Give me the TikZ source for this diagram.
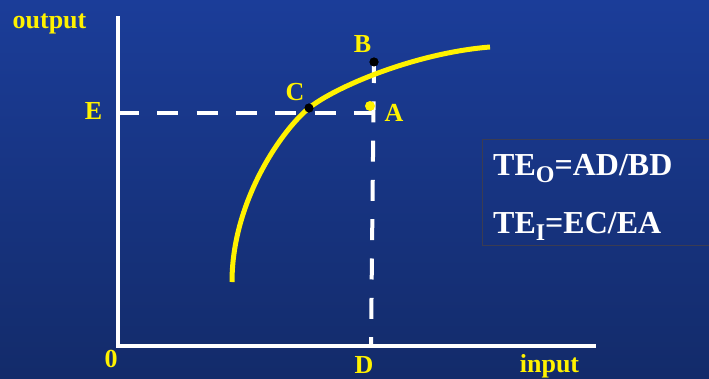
\documentclass[tikz,border=0pt]{standalone}
\usepackage{fontspec}
\setmainfont{Liberation Serif}
\usetikzlibrary{positioning}

\definecolor{bgtop}{RGB}{27,61,153}
\definecolor{bgbot}{RGB}{19,43,106}
\definecolor{boxline}{RGB}{58,60,82}
\newcommand{\lowsub}[1]{\raisebox{-7pt}{\fontsize{24}{24}\selectfont #1}}

\begin{document}
\begin{tikzpicture}[
  x=1pt, y=-1pt,
  axis/.style={draw=white, line width=4pt},
  guide/.style={draw=white, line width=4pt, dash pattern=on 21pt off 18.3pt},
  frontier/.style={draw=yellow, line width=5pt},
  lbl/.style={text=yellow, font=\fontsize{26}{30}\selectfont\bfseries, inner sep=0pt, anchor=base},
  ratio/.style={text=white, font=\fontsize{32}{36}\selectfont\bfseries, inner sep=0pt, anchor=base west},
  dot/.style={circle, fill=black, inner sep=0pt, minimum size=9pt}
]
  \shade[top color=bgtop, bottom color=bgtop!50!bgbot] (0,0) rectangle (709,189);
  \shade[top color=bgtop!50!bgbot, bottom color=bgbot] (0,189) rectangle (709,378);
  \useasboundingbox (0,0) rectangle (709,378);

  % axes
  \coordinate (origin) at (118,345.5);
  \coordinate (ytop) at (118,16);
  \coordinate (xend) at (596,345.5);
  \draw[axis] (ytop) -- (origin) -- (xend);

  % points
  \coordinate (E) at (118,112.5);
  \coordinate (A) at (373,112.5);
  \coordinate (D) at (371,345.5);
  \coordinate (start) at (232,282);
  \coordinate (stop) at (490,47);
  \node[dot] (Bdot) at (374,62) {};
  \node[dot] (Cdot) at (309,108) {};

  \draw[guide] (E) -- (A);
  \draw[guide] (Bdot.center) -- (D);

  % frontier
  \draw[frontier] (start) .. controls (232,200) and (283,129) .. (Cdot.center)
    .. controls (335,87) and (415,53) .. (stop);
  \node[dot] at (Bdot) {};
  \node[dot] at (Cdot) {};
  \node[circle, fill=yellow, inner sep=0pt, minimum size=10pt] (Adot) at (370,106) {};

  % labels
  \node[lbl] (output) at (49.5,28) {output};
  \node[lbl] (Elbl) at (93.5,119) {E};
  \node[lbl] (Clbl) at (295,100) {C};
  \node[lbl] (Blbl) at (362.5,52.5) {B};
  \node[lbl] (Albl) at (394,121.5) {A};
  \node[lbl] (zero) at (111,367) {0};
  \node[lbl] (Dlbl) at (364,373) {D};
  \node[lbl] (input) at (549.5,372) {input};

  % ratio box
  \draw[boxline, line width=1pt] (482,139) rectangle (712,245);
  \node[ratio] (teo) at (493,175) {TE\lowsub{O}=AD/BD};
  \node[ratio] (tei) at (493,233) {TE\lowsub{I}=EC/EA};
\end{tikzpicture}
\end{document}
